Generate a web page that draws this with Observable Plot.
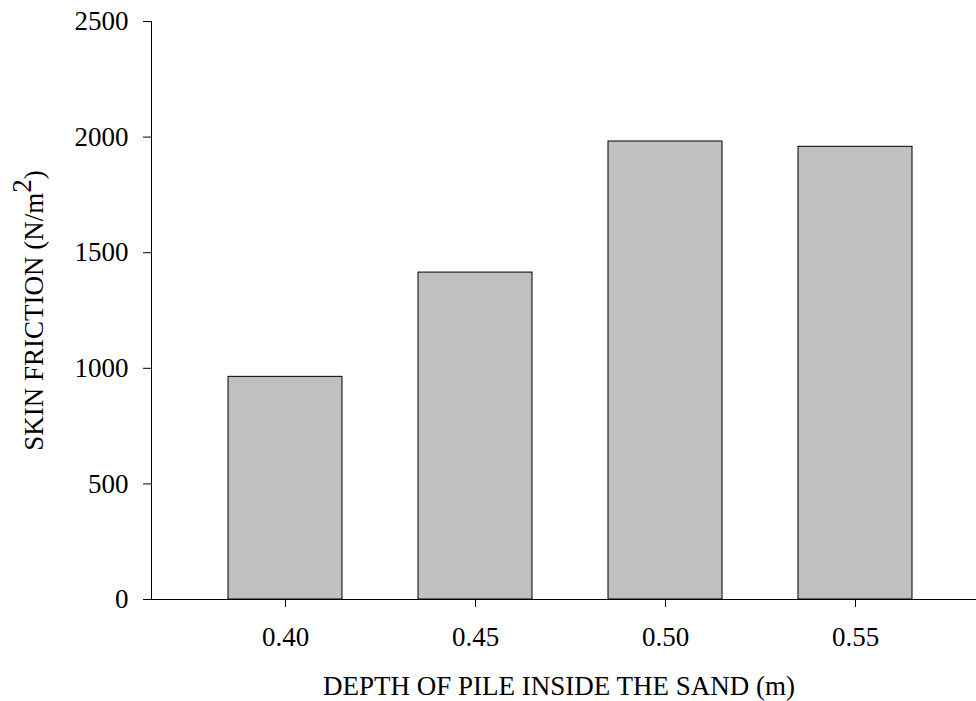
<!DOCTYPE html>
<html><head><meta charset="utf-8">
<script src="https://cdn.jsdelivr.net/npm/d3@7"></script>
<script src="https://cdn.jsdelivr.net/npm/@observablehq/plot@0.6"></script>
<style>body{margin:0;background:#fff}</style>
</head><body><div id="chart"></div>
<script>
const depths = ["0.40", "0.45", "0.50", "0.55"];
const friction = [963, 1414, 1981, 1958];
const yTicks = [0, 500, 1000, 1500, 2000, 2500];
const xLabel = "DEPTH OF PILE INSIDE THE SAND (m)";
const yLabel = "SKIN FRICTION (N/m2)";
const data = depths.map((d, i) => ({depth: d, value: friction[i]}));

const chart = Plot.plot({
  width: 976, height: 701,
  marginLeft: 151, marginTop: 21, marginBottom: 102, marginRight: 0,
  style: {fontFamily: "'Liberation Serif', 'Times New Roman', serif", fontSize: "27px", color: "#000", background: "#fff", overflow: "visible"},
  x: {domain: depths, range: [151, 988], paddingInner: 0.4, paddingOuter: 0.4},
  y: {domain: [0, 2500]},
  marks: [
    Plot.barY(data, {x: "depth", y: "value", fill: "#c0c0c0", stroke: "#000", strokeWidth: 1}),
    Plot.axisY({ticks: yTicks, tickFormat: d => String(d), tickSize: 8, tickPadding: 15, label: yLabel, labelAnchor: "center", labelOffset: 128, labelArrow: "none", fill: "#000", stroke: "#000"}),
    Plot.axisX({tickSize: 8, tickPadding: 19, label: xLabel, labelAnchor: "center", labelOffset: 95, labelArrow: "none", fill: "#000", stroke: "#000"}),
    Plot.ruleY([0], {stroke: "#000"}),
    Plot.frame({anchor: "left", stroke: "#000"})
  ]
});
document.getElementById("chart").appendChild(chart);

// superscript in y label
const yl = chart.querySelector('g[aria-label="y-axis label"] text');
if (yl) {
  const ns = "http://www.w3.org/2000/svg";
  yl.textContent = "SKIN FRICTION (N/m";
  const s = document.createElementNS(ns, "tspan");
  s.setAttribute("dy", "-0.45em");
  s.textContent = "2";
  const c = document.createElementNS(ns, "tspan");
  c.setAttribute("dy", "0.45em");
  c.textContent = ")";
  yl.appendChild(s); yl.appendChild(c);
}
// shift x-axis title slightly left to match reference centring
const xl = chart.querySelector('g[aria-label="x-axis label"]');
if (xl) xl.setAttribute("transform", (xl.getAttribute("transform") || "") + " translate(-5,0)");
</script>
</body></html>
